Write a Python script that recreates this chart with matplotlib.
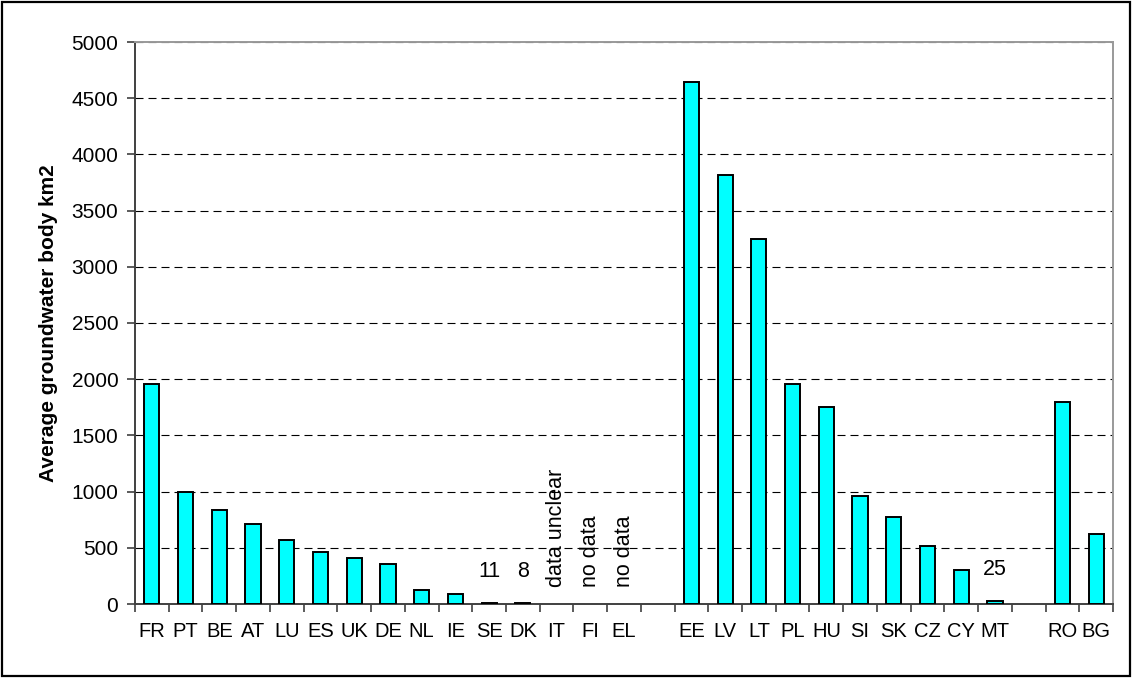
import numpy as np
import matplotlib
matplotlib.use("Agg")
import matplotlib.pyplot as plt
from matplotlib.patches import Rectangle
from matplotlib.ticker import FixedLocator, MultipleLocator

plt.rcParams['font.family'] = ['Liberation Sans', 'DejaVu Sans']

# Member states, grouped (EU-15, new members 2004, accession 2007); '' marks a gap
countries = ['FR', 'PT', 'BE', 'AT', 'LU', 'ES', 'UK', 'DE', 'NL', 'IE',
             'SE', 'DK', 'IT', 'FI', 'EL', '',
             'EE', 'LV', 'LT', 'PL', 'HU', 'SI', 'SK', 'CZ', 'CY', 'MT', '',
             'RO', 'BG']
avg_area_km2 = [1960, 1000, 840, 715, 570, 465, 410, 360, 125, 85,
                11, 8, np.nan, np.nan, np.nan, np.nan,
                4640, 3820, 3250, 1960, 1750, 965, 770, 520, 305, 25, np.nan,
                1800, 625]
# Countries whose value is written above the bar
value_labels = {'SE': '11', 'DK': '8', 'MT': '25'}
# Countries without a usable value
notes = {'IT': 'data unclear', 'FI': 'no data', 'EL': 'no data'}

W, H = 1132, 678
fig = plt.figure(figsize=(W / 100, H / 100), dpi=100)
ax = fig.add_axes([135 / W, 1 - 604 / H, (1113 - 135) / W, (604 - 42) / H])

x = np.arange(len(countries))
vals = np.array(avg_area_km2, dtype=float)
has_value = np.isfinite(vals)
ax.bar(x[has_value], vals[has_value], width=0.45, color='#00FFFF',
       edgecolor='black', linewidth=1.4, zorder=3)

ax.set_xlim(-0.5, len(countries) - 0.5)
ax.set_ylim(0, 5000)
ax.yaxis.set_major_locator(MultipleLocator(500))

# Dashed horizontal gridlines
ax.yaxis.grid(True, color='black', linewidth=0.8, linestyle=(0, (7.2, 4.5)), zorder=1)
ax.set_axisbelow(True)

# Category labels centred on bars, ticks between categories
ax.set_xticks(x)
ax.set_xticklabels(countries)
ax.xaxis.set_minor_locator(FixedLocator(np.arange(len(countries) + 1) - 0.5))
ax.tick_params(axis='x', which='major', length=0, pad=13, labelsize=14.5)
ax.tick_params(axis='x', which='minor', length=6, width=1.2, color='#404040', direction='out')
ax.tick_params(axis='y', which='major', length=6, width=1.2, color='#404040',
               direction='out', pad=6, labelsize=15)

for side in ('left', 'bottom'):
    ax.spines[side].set_color('#404040')
    ax.spines[side].set_linewidth(1.4)
for side in ('top', 'right'):
    ax.spines[side].set_color('#999999')
    ax.spines[side].set_linewidth(1.4)

ax.set_ylabel('Average groundwater body km2', fontsize=15, fontweight='bold', labelpad=10)

for name, text in value_labels.items():
    i = countries.index(name)
    ax.annotate(text, (x[i], vals[i]), xytext=(0, 15), textcoords='offset points',
                ha='center', va='bottom', fontsize=15.5)

for name, text in notes.items():
    i = countries.index(name)
    ax.annotate(text, (x[i], 0), xytext=(0, 12.5), textcoords='offset points',
                ha='center', va='bottom', rotation=90, fontsize=15.5)

# Frame around the whole chart
fig.patches.append(Rectangle((2 / W, 2 / H), (W - 4) / W, (H - 4) / H,
                             transform=fig.transFigure, fill=False,
                             edgecolor='black', linewidth=1.6))

fig.savefig('out.png', dpi=100)
